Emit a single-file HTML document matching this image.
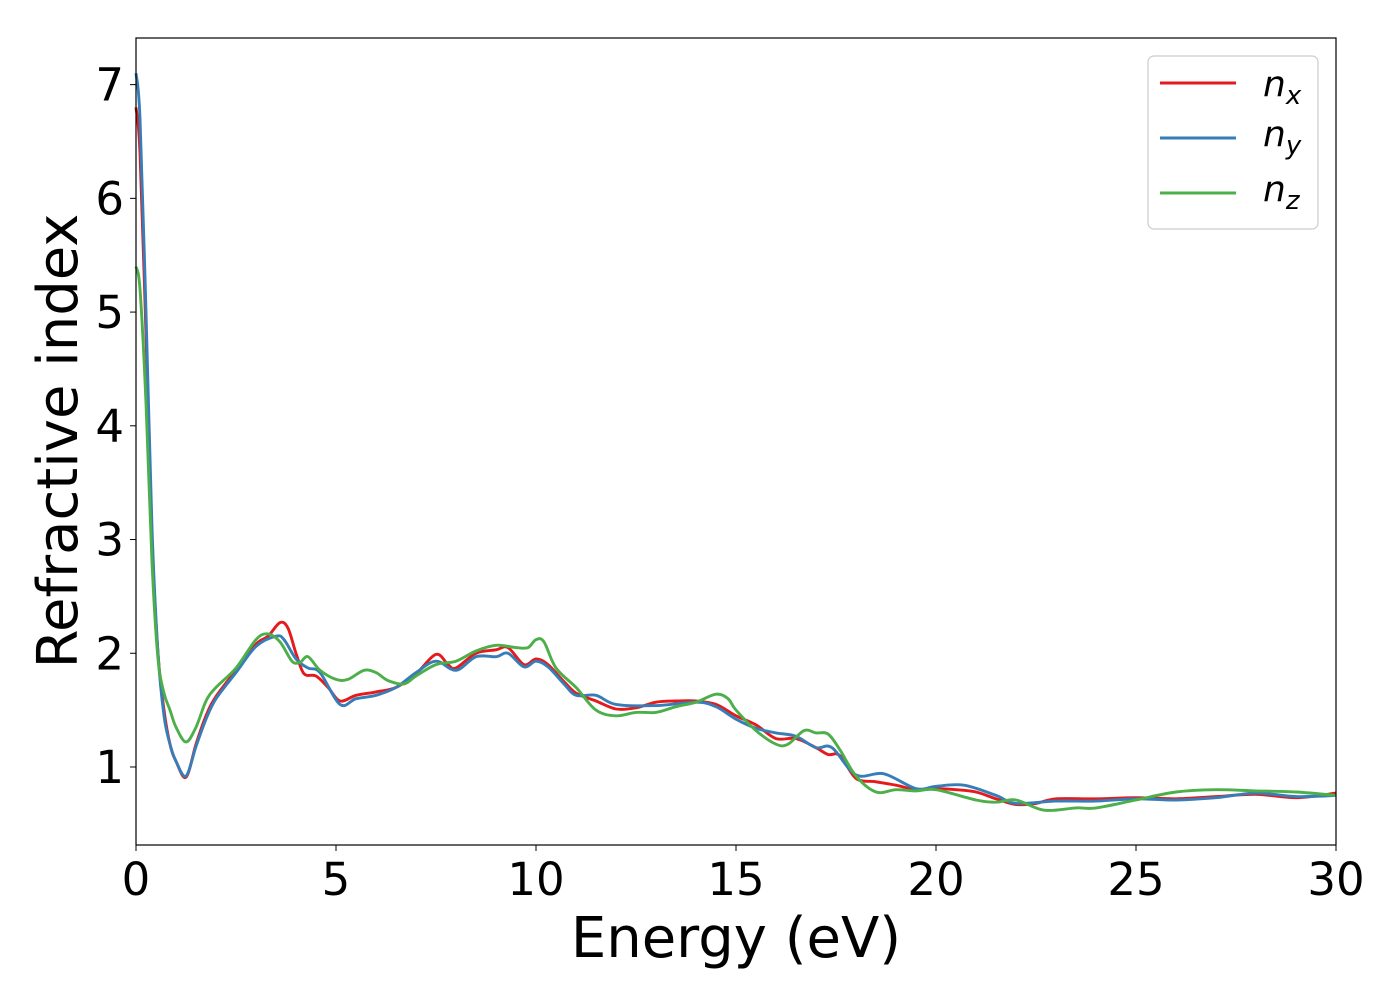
<!DOCTYPE html>
<html><head><meta charset="utf-8"><style>
body{margin:0;background:#fff;}
svg{display:block;font-family:"DejaVu Sans","Liberation Sans",sans-serif;}
</style></head><body>
<svg id="chart" width="1400" height="1000">
<rect x="0" y="0" width="1400" height="1000" fill="#fff"/>
<g id="series"></g>
<g id="axes"></g>
<rect x="136" y="38" width="1200" height="807" fill="none" stroke="#000" stroke-width="1.2"/>
<text x="736" y="957" font-size="56" text-anchor="middle">Energy (eV)</text>
<text x="77" y="441" font-size="56" text-anchor="middle" transform="rotate(-90 77 441)">Refractive index</text>
<g>
<rect x="1148" y="56" width="170" height="173" rx="6" fill="#fff" stroke="#ccc" stroke-width="1.2"/>
<g><line x1="1160" y1="83" x2="1236" y2="83" stroke="#e41a1c" stroke-width="2.9"/><text x="1263" y="96" font-size="36" font-style="italic">n<tspan font-size="26" dy="8">x</tspan></text></g>
<g><line x1="1160" y1="138" x2="1236" y2="138" stroke="#377eb8" stroke-width="2.9"/><text x="1263" y="146" font-size="36" font-style="italic">n<tspan font-size="26" dy="8">y</tspan></text></g>
<g><line x1="1160" y1="193" x2="1236" y2="193" stroke="#4daf4a" stroke-width="2.9"/><text x="1263" y="201" font-size="36" font-style="italic">n<tspan font-size="26" dy="8">z</tspan></text></g>
</g>
</svg>
<script>
const xTicks=[0,5,10,15,20,25,30];
const yTicks=[1,2,3,4,5,6,7];
const nxE=[0,0.1,0.25,0.4,0.55,0.7,0.85,1.0,1.25,1.5,1.75,2,2.5,3,3.3,3.6,3.8,4.0,4.2,4.5,4.8,5.1,5.5,6,6.5,7,7.5,7.8,8,8.5,9,9.3,9.7,10,10.3,10.7,11,11.5,12,12.5,13,13.5,14,14.5,15,15.5,16,16.5,17,17.3,17.6,18,18.5,19,19.5,20,20.5,21,21.5,22,22.5,23,24,25,26,27,28,29,30];
const nxV=[6.8,6.4,4.8,3.0,2.0,1.5,1.2,1.05,0.91,1.2,1.45,1.62,1.85,2.08,2.15,2.27,2.22,2.0,1.82,1.8,1.7,1.58,1.63,1.66,1.7,1.82,1.99,1.9,1.87,2.0,2.03,2.05,1.9,1.95,1.9,1.75,1.65,1.58,1.51,1.52,1.57,1.58,1.58,1.55,1.45,1.37,1.25,1.25,1.17,1.11,1.1,0.9,0.87,0.84,0.8,0.81,0.8,0.78,0.72,0.67,0.68,0.72,0.72,0.73,0.72,0.74,0.76,0.73,0.77];
const nyE=[0,0.1,0.25,0.4,0.55,0.7,0.85,1.0,1.25,1.5,1.75,2,2.5,3,3.5,3.7,4.0,4.3,4.6,5.1,5.5,6,6.5,7,7.5,8,8.5,9,9.3,9.7,10,10.3,10.7,11,11.5,12,13,14,14.5,15,15.5,16,16.5,17,17.4,18,18.7,19.5,20,20.7,21.5,22,23,24,25,26,27,28,29,30];
const nyV=[7.1,6.7,5.0,3.1,2.0,1.45,1.2,1.05,0.92,1.18,1.42,1.6,1.83,2.06,2.15,2.12,1.95,1.87,1.83,1.55,1.6,1.63,1.7,1.83,1.93,1.85,1.97,1.97,2.0,1.88,1.93,1.88,1.73,1.63,1.63,1.55,1.54,1.57,1.53,1.42,1.34,1.3,1.27,1.17,1.17,0.93,0.94,0.81,0.83,0.84,0.75,0.68,0.7,0.7,0.72,0.71,0.73,0.77,0.74,0.75];
const nzE=[0,0.1,0.25,0.4,0.55,0.7,0.85,1.0,1.25,1.5,1.75,2,2.5,3,3.3,3.6,3.9,4.1,4.3,4.6,5,5.3,5.7,6,6.3,6.7,7,7.5,8,8.5,9,9.5,9.8,10,10.2,10.5,11,11.5,12,12.5,13,13.5,14,14.5,14.8,15,15.5,16,16.3,16.7,17,17.3,17.6,18,18.5,19,19.5,20,21,21.5,22,22.7,23.5,24,25,26,27,28,29,30];
const nzV=[5.4,5.2,4.2,2.8,1.95,1.65,1.5,1.35,1.22,1.35,1.58,1.7,1.87,2.12,2.17,2.1,1.93,1.92,1.97,1.85,1.77,1.77,1.85,1.83,1.76,1.73,1.8,1.9,1.93,2.02,2.07,2.05,2.05,2.12,2.1,1.87,1.7,1.5,1.45,1.48,1.48,1.53,1.57,1.64,1.6,1.5,1.32,1.2,1.2,1.32,1.3,1.29,1.15,0.92,0.78,0.8,0.79,0.8,0.71,0.69,0.71,0.62,0.64,0.64,0.71,0.78,0.8,0.79,0.78,0.75];
const NS='http://www.w3.org/2000/svg';
const X0=136,X1=1336,Y0=845,Y1=38;
const xmin=0,xmax=30,ymin=0.314,ymax=7.41;
function sx(v){return X0+(v-xmin)/(xmax-xmin)*(X1-X0);}
function sy(v){return Y0-(v-ymin)/(ymax-ymin)*(Y0-Y1);}
function pathFor(E,V){
  const p=E.map((e,i)=>[sx(e),sy(V[i])]);
  let d='M'+p[0][0].toFixed(1)+','+p[0][1].toFixed(1);
  for(let i=0;i<p.length-1;i++){
    const a=p[Math.max(0,i-1)],b=p[i],c=p[i+1],e=p[Math.min(p.length-1,i+2)];
    const c1=[b[0]+(c[0]-a[0])/6,b[1]+(c[1]-a[1])/6];
    const c2=[c[0]-(e[0]-b[0])/6,c[1]-(e[1]-b[1])/6];
    d+=' C'+c1[0].toFixed(1)+','+c1[1].toFixed(1)+' '+c2[0].toFixed(1)+','+c2[1].toFixed(1)+' '+c[0].toFixed(1)+','+c[1].toFixed(1);
  }
  return d;
}
const sg=document.getElementById('series');
function addLine(E,V,color,name){
  const el=document.createElementNS(NS,'path');
  el.setAttribute('d',pathFor(E,V));
  el.setAttribute('fill','none');
  el.setAttribute('stroke',color);
  el.setAttribute('stroke-width','2.9');
  
  
  sg.appendChild(el);
}
addLine(nxE,nxV,'#e41a1c','series-nx-line');
addLine(nyE,nyV,'#377eb8','series-ny-line');
addLine(nzE,nzV,'#4daf4a','series-nz-line');
const ag=document.getElementById('axes');
xTicks.forEach(t=>{
  const x=sx(t);
  const l=document.createElementNS(NS,'line');
  l.setAttribute('x1',x);l.setAttribute('x2',x);l.setAttribute('y1',Y0);l.setAttribute('y2',Y0+6);
  l.setAttribute('stroke','#000');
  
  
  ag.appendChild(l);
  const tx=document.createElementNS(NS,'text');
  tx.setAttribute('x',x);tx.setAttribute('y',Y0+50);
  tx.setAttribute('font-size','45');tx.setAttribute('text-anchor','middle');
  tx.textContent=t;
  
  
  ag.appendChild(tx);
});
yTicks.forEach(t=>{
  const y=sy(t);
  const l=document.createElementNS(NS,'line');
  l.setAttribute('x1',X0-6);l.setAttribute('x2',X0);l.setAttribute('y1',y);l.setAttribute('y2',y);
  l.setAttribute('stroke','#000');
  
  
  ag.appendChild(l);
  const tx=document.createElementNS(NS,'text');
  tx.setAttribute('x',X0-12);tx.setAttribute('y',y+16);
  tx.setAttribute('font-size','45');tx.setAttribute('text-anchor','end');
  tx.textContent=t;
  
  
  ag.appendChild(tx);
});
</script>
</body></html>
